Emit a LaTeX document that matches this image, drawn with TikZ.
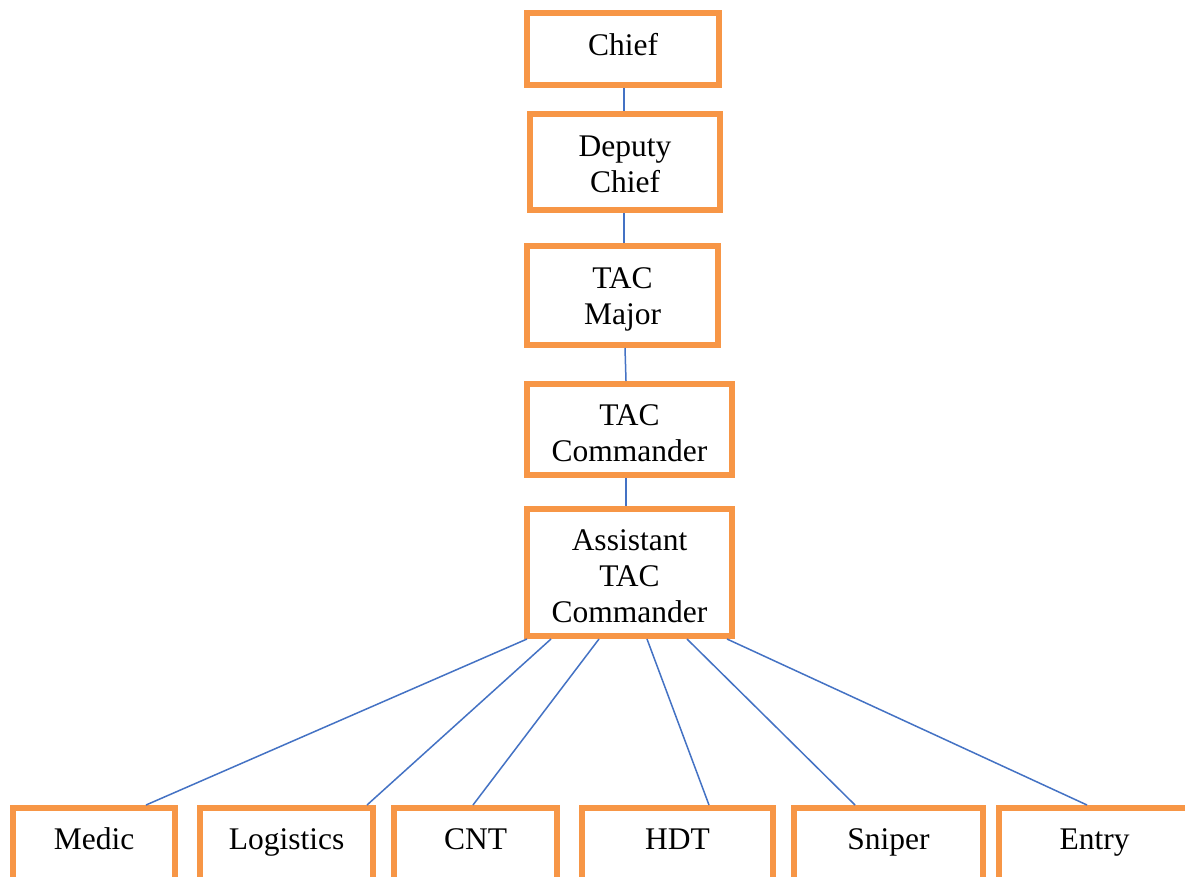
\documentclass[tikz,border=0pt]{standalone}
\usepackage{fontspec}
\setmainfont{Liberation Serif}
\definecolor{boxorange}{HTML}{F79646}
\definecolor{linkblue}{HTML}{4472C4}
\begin{document}
\begin{tikzpicture}[x=1pt,y=-1pt,
  rolebox/.style={draw=boxorange, line width=6pt, fill=white, rectangle, inner sep=0pt},
  roletext/.style={align=center, inner sep=0pt, font=\fontsize{31.5}{36}\selectfont},
  basebox/.style={draw=boxorange, line width=6pt, fill=white, rectangle, inner sep=0pt,
    text height=41pt, text depth=62pt, anchor=base, font=\fontsize{31.5}{36}\selectfont},
  link/.style={draw=linkblue, line width=1.5pt}]
\useasboundingbox (0,0) rectangle (1185,876);
\clip (0,0) rectangle (1185,876);
\fill[white] (0,0) rectangle (1185,876);
% chain
\node[rolebox, minimum width=192pt, minimum height=72pt,
  label={[roletext, yshift=4pt]center:Chief}] (chief) at (623,49) {};
\node[rolebox, minimum width=190pt, minimum height=96pt,
  label={[roletext, yshift=-2pt]center:Deputy\\Chief}] (deputy) at (625,162) {};
\node[rolebox, minimum width=191pt, minimum height=99pt,
  label={[roletext, yshift=-4pt]center:TAC\\Major}] (major) at (622.5,295.5) {};
\node[rolebox, minimum width=205pt, minimum height=91pt,
  label={[roletext, yshift=-4pt]center:TAC\\Commander}] (cmdr) at (629.5,429.5) {};
\node[rolebox, minimum width=205pt, minimum height=127pt,
  label={[roletext, yshift=-4pt]center:Assistant\\TAC\\Commander}] (asst) at (629.5,572.5) {};
% bottom row
\node[basebox, minimum width=162pt] (medic) at (94,849) {Medic};
\node[basebox, minimum width=173pt] (logi) at (286.5,849) {Logistics};
\node[basebox, minimum width=163pt] (cnt) at (475.5,849) {CNT};
\node[basebox, minimum width=191pt] (hdt) at (677.5,849) {HDT};
\node[basebox, minimum width=189pt] (sniper) at (888.5,849) {Sniper};
\node[basebox, minimum width=191pt] (entry) at (1094.5,849) {Entry};
% vertical links
\draw[link] ([xshift=1pt]chief.south) -- ([xshift=-1pt]deputy.north);
\draw[link] ([xshift=-1pt]deputy.south) -- ([xshift=1.5pt]major.north);
\draw[link] ([xshift=2.5pt]major.south) -- ([xshift=-3.5pt]cmdr.north);
\draw[link] ([xshift=-3.5pt]cmdr.south) -- ([xshift=-3.5pt]asst.north);
% fan-out links
\draw[link] ([xshift=3pt]asst.south west) -- ([xshift=136pt]medic.north west);
\draw[link] ([xshift=27pt]asst.south west) -- ([xshift=170pt]logi.north west);
\draw[link] ([xshift=75pt]asst.south west) -- ([xshift=82pt]cnt.north west);
\draw[link] ([xshift=123pt]asst.south west) -- ([xshift=130pt]hdt.north west);
\draw[link] ([xshift=163pt]asst.south west) -- ([xshift=64pt]sniper.north west);
\draw[link] ([xshift=203pt]asst.south west) -- ([xshift=91pt]entry.north west);
\end{tikzpicture}
\end{document}
